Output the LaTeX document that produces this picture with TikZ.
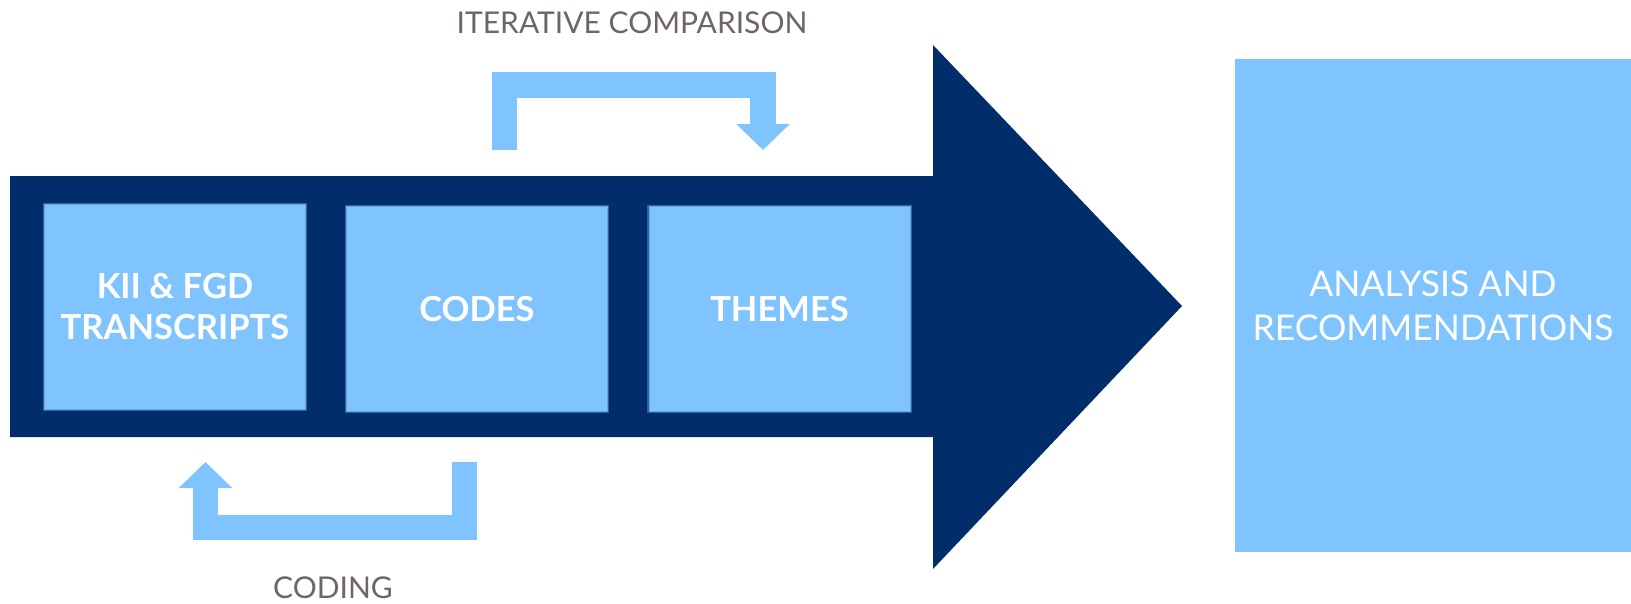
\documentclass[tikz,border=0pt]{standalone}
\usepackage{fontspec}
\setmainfont{Lato}
\usetikzlibrary{arrows.meta}
\definecolor{navy}{RGB}{1,46,106}
\definecolor{lblue}{RGB}{128,196,255}
\definecolor{capgray}{RGB}{110,102,100}
\begin{document}
\begin{tikzpicture}[x=1pt,y=-1pt,
  stage/.style={fill=lblue, draw=lblue!80!navy, line width=1pt,
    preaction={draw=lblue!35!navy, line width=3.5pt},
    minimum width=261pt, minimum height=205pt, inner sep=0pt,
    text=white, font=\bfseries\fontsize{34.5}{41}\selectfont, align=center},
  result/.style={fill=lblue, minimum width=396pt, minimum height=493pt, inner sep=0pt,
    text=white, font=\fontsize{35.5}{44}\selectfont, align=center},
  loop/.style={lblue, line width=25.5pt, line join=miter,
    -{Triangle[length=26pt,width=52pt]}},
  caption/.style={text=capgray, font=\fontsize{30}{36}\selectfont, inner sep=0pt}]
\useasboundingbox (0,0) rectangle (1631,603);
% big arrow
\fill[navy] (10,176) -- (933,176) -- (933,45) -- (1182,306) -- (933,569) -- (933,437) -- (10,437) -- cycle;
% stages
\node[stage] (kii) at (175,307) {KII \& FGD\\TRANSCRIPTS};
\node[stage] (codes) at (477,309) {CODES};
\node[stage] (themes) at (779.5,309) {THEMES};
\node[result] (ana) at (1433,305.5) {ANALYSIS AND\\RECOMMENDATIONS};
% loops
\coordinate (t1) at (504.5,150);
\coordinate (t2) at (763,150);
\draw[loop] (t1) -- (504.5,85) -| (t2);
\coordinate (b1) at (464.5,462);
\coordinate (b2) at (205.5,462);
\draw[loop] (b1) -- (464.5,527.5) -| (b2);
% captions
\node[caption] (iter) at (632,23) {ITERATIVE COMPARISON};
\node[caption] (coding) at (333,588) {CODING};
\end{tikzpicture}
\end{document}
